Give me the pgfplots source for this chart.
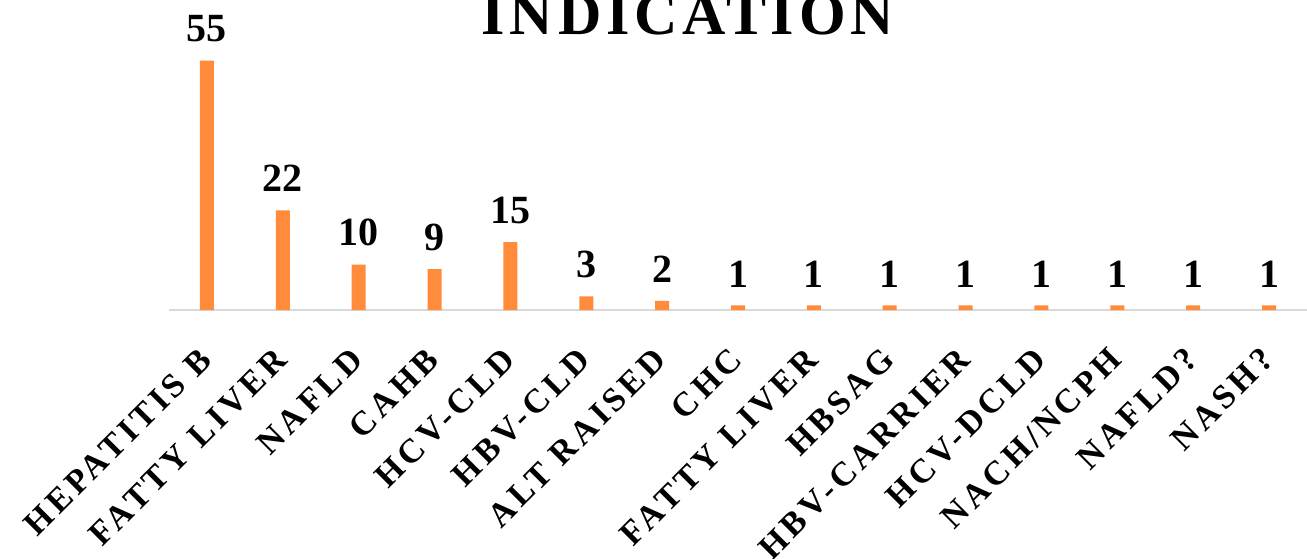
\documentclass[border=0pt]{standalone}
\usepackage{fontspec}
\setmainfont{Liberation Serif}
\newfontfamily\lblfont[LetterSpace=12]{Liberation Serif}
\usepackage{pgfplots}
\pgfplotsset{compat=1.18}
\definecolor{barorange}{RGB}{255,139,59}
\definecolor{axisgray}{RGB}{217,217,217}
\begin{document}
\begin{tikzpicture}
\begin{axis}[
  scale only axis, width=569pt, height=155pt,
  xmin=-0.5, xmax=14.5, ymin=0, ymax=68.4,
  axis y line=none,
  axis x line=bottom,
  x axis line style={draw=axisgray, line width=1pt, -},
  xtick={0,...,14},
  xticklabels={HEPATITIS B,FATTY LIVER,NAFLD,CAHB,HCV-CLD,HBV-CLD,ALT RAISED,CHC,FATTY LIVER,HBSAG,HBV-CARRIER,HCV-DCLD,NACH/NCPH,NAFLD?,NASH?},
  major tick length=0pt,
  xticklabel style={rotate=45, anchor=east, inner sep=0pt, xshift=-16pt, yshift=-15pt, font=\lblfont\bfseries\fontsize{17}{20}\selectfont},
  ybar, bar width=7pt,
  /pgf/number format/assume math mode=true,
  nodes near coords,
  every node near coord/.append style={anchor=south, inner sep=0pt, yshift=9pt, font=\bfseries\fontsize{20}{24}\selectfont, text=black},
  clip=false,
]
\addplot[fill=barorange, draw=none] coordinates {
  (0,55) (1,22) (2,10) (3,9) (4,15) (5,3) (6,2) (7,1) (8,1) (9,1) (10,1) (11,1) (12,1) (13,1) (14,1)
};
\node[font=\bfseries\fontsize{30}{36}\selectfont, anchor=base] at (axis cs:6.34,60.7) {\addfontfeatures{LetterSpace=8}INDICATION};
\end{axis}
\pgfresetboundingbox
\path[use as bounding box] ([xshift=-84.5pt,yshift=-124pt]current axis.south west) rectangle (current axis.north east);
\end{tikzpicture}
\end{document}
